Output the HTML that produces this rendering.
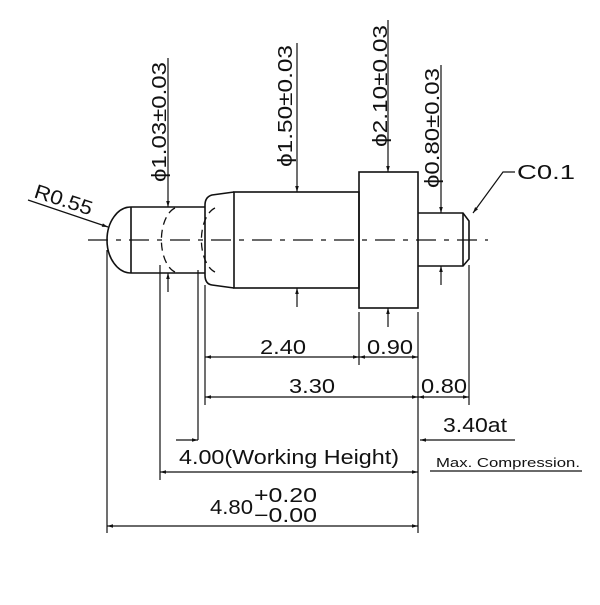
<!DOCTYPE html>
<html><head><style>html,body{margin:0;padding:0;background:#fff}</style></head><body>
<svg width="600" height="600" viewBox="0 0 600 600" xmlns="http://www.w3.org/2000/svg" font-family="Liberation Sans, sans-serif" fill="none" stroke="#111" stroke-width="1.6">
<defs><marker id="a" viewBox="0 0 10 10" refX="10" refY="5" markerWidth="9" markerHeight="6" orient="auto-start-reverse" markerUnits="userSpaceOnUse"><path d="M0,2 L10,5 L0,8 z" fill="#111" stroke="none"/></marker></defs>
<line x1="88" y1="240" x2="488" y2="240" stroke-dasharray="20,8,5,8" stroke-width="1.2"/>
<path d="M131,207 A24,33 0 0 0 131,273"/>
<line x1="131" y1="207" x2="131" y2="273"/>
<line x1="131" y1="207" x2="205" y2="207"/>
<line x1="131" y1="273" x2="205" y2="273"/>
<path d="M175,208 A18,33 0 0 0 175,272" stroke-dasharray="8,5" stroke-width="1.3"/>
<path d="M215,208 A18,33 0 0 0 215,272" stroke-dasharray="8,5" stroke-width="1.3"/>
<path d="M234,192 L212,195 Q205,197 205,205 L205,275 Q205,284 212,285 L234,288"/>
<rect x="234" y="192" width="125" height="96"/>
<rect x="359" y="172" width="59" height="136"/>
<path d="M418,213 L463,213 L469,221 L469,259 L463,266 L418,266"/>
<line x1="463" y1="213" x2="463" y2="266"/>
<g stroke-width="1.2">
<line x1="168" y1="58" x2="168" y2="207" marker-end="url(#a)"/>
<line x1="168" y1="292" x2="168" y2="273" marker-end="url(#a)"/>
<line x1="297" y1="43" x2="297" y2="192" marker-end="url(#a)"/>
<line x1="297" y1="307" x2="297" y2="288" marker-end="url(#a)"/>
<line x1="388" y1="20" x2="388" y2="172" marker-end="url(#a)"/>
<line x1="388" y1="327" x2="388" y2="308" marker-end="url(#a)"/>
<line x1="441" y1="65" x2="441" y2="213" marker-end="url(#a)"/>
<line x1="441" y1="285" x2="441" y2="266" marker-end="url(#a)"/>
<line x1="107" y1="250" x2="107" y2="533"/>
<line x1="160" y1="265" x2="160" y2="480"/>
<line x1="198" y1="270" x2="198" y2="440"/>
<line x1="205" y1="285" x2="205" y2="405"/>
<line x1="359" y1="312" x2="359" y2="365"/>
<line x1="418" y1="312" x2="418" y2="533"/>
<line x1="469" y1="265" x2="469" y2="405"/>
<line x1="205" y1="357" x2="359" y2="357" marker-start="url(#a)" marker-end="url(#a)"/>
<line x1="359" y1="357" x2="418" y2="357" marker-start="url(#a)" marker-end="url(#a)"/>
<line x1="205" y1="397" x2="418" y2="397" marker-start="url(#a)" marker-end="url(#a)"/>
<line x1="418" y1="397" x2="469" y2="397" marker-start="url(#a)" marker-end="url(#a)"/>
<line x1="176" y1="440" x2="198" y2="440" marker-end="url(#a)"/>
<line x1="515" y1="440" x2="420" y2="440" marker-end="url(#a)"/>
<line x1="160" y1="472" x2="418" y2="472" marker-start="url(#a)" marker-end="url(#a)"/>
<line x1="430" y1="471" x2="582" y2="471"/>
<line x1="107" y1="526" x2="418" y2="526" marker-start="url(#a)" marker-end="url(#a)"/>
<line x1="28" y1="200" x2="108" y2="227" marker-end="url(#a)"/>
<polyline points="515,172 503,172 473,213" marker-end="url(#a)"/>
</g>
<g fill="#111" stroke="none" font-size="20">
<text transform="translate(166,182) rotate(-90)" textLength="120" lengthAdjust="spacingAndGlyphs">ϕ1.03±0.03</text>
<text transform="translate(292,167) rotate(-90)" textLength="122" lengthAdjust="spacingAndGlyphs">ϕ1.50±0.03</text>
<text transform="translate(387,147) rotate(-90)" textLength="122" lengthAdjust="spacingAndGlyphs">ϕ2.10±0.03</text>
<text transform="translate(439,188) rotate(-90)" textLength="120" lengthAdjust="spacingAndGlyphs">ϕ0.80±0.03</text>
<text transform="translate(33,197) rotate(18)" textLength="60" lengthAdjust="spacingAndGlyphs">R0.55</text>
<text x="517" y="179" textLength="58" lengthAdjust="spacingAndGlyphs">C0.1</text>
<text x="260" y="354" textLength="46" lengthAdjust="spacingAndGlyphs">2.40</text>
<text x="367" y="354" textLength="46" lengthAdjust="spacingAndGlyphs">0.90</text>
<text x="289" y="393" textLength="46" lengthAdjust="spacingAndGlyphs">3.30</text>
<text x="421" y="393" textLength="46" lengthAdjust="spacingAndGlyphs">0.80</text>
<text x="443" y="432" textLength="64" lengthAdjust="spacingAndGlyphs">3.40at</text>
<text x="179" y="464" textLength="220" lengthAdjust="spacingAndGlyphs">4.00(Working Height)</text>
<text x="436" y="467" font-size="13" textLength="144" lengthAdjust="spacingAndGlyphs">Max. Compression.</text>
<text x="210" y="514" textLength="43" lengthAdjust="spacingAndGlyphs">4.80</text>
<text x="254" y="502" textLength="63" lengthAdjust="spacingAndGlyphs">+0.20</text>
<text x="254" y="522" textLength="63" lengthAdjust="spacingAndGlyphs">−0.00</text>
</g>
</svg>
</body></html>
